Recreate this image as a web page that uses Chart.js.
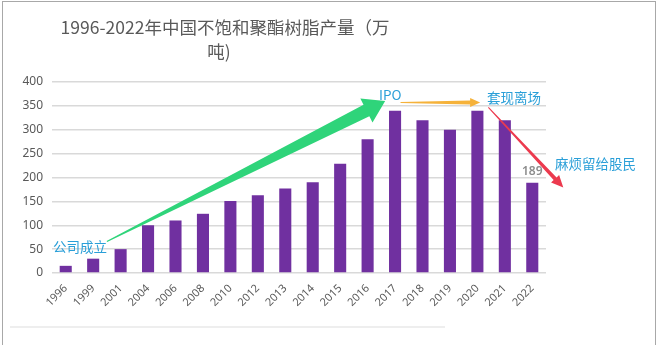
<!DOCTYPE html>
<html>
<head>
<meta charset="utf-8">
<script src="https://cdn.jsdelivr.net/npm/chart.js@4.4.1/dist/chart.umd.min.js"></script>
<style>
  html, body { margin: 0; padding: 0; background: #fff; }
  #wrap { position: relative; width: 660px; height: 345px; overflow: hidden; font-family: "Noto Sans CJK SC", "Noto Sans", sans-serif; }
  #frame { position: absolute; left: 2px; top: 1px; width: 654px; height: 360px; border: 1.5px solid #a8a8a8; box-sizing: border-box; pointer-events: none; }
  #title { position: absolute; left: 40px; top: 15px; width: 370px; text-align: center; font-size: 17.5px; line-height: 24px; color: #595959; }
  #title span { position: relative; left: -6px; }
  .note { position: absolute; font-size: 13.5px; line-height: 16px; color: #2a9fd8; white-space: nowrap; }
  #foot { position: absolute; left: 10px; top: 326px; width: 435px; height: 2px; background: #eeeeee; }
</style>
</head>
<body>
<div id="wrap">
  <canvas id="chart"></canvas>
  <div id="title">1996-2022年中国不饱和聚酯树脂产量（万<br><span>吨)</span></div>
  <div class="note" style="left:53px;top:238px">公司成立</div>
  <div class="note" style="left:379px;top:86px">IPO</div>
  <div class="note" style="left:487px;top:89px">套现离场</div>
  <div class="note" style="left:555px;top:155px">麻烦留给股民</div>
  <div id="foot"></div>
  <div id="frame"></div>
</div>
<script>
const PURPLE = '#7030a0', GRID = '#d9d9d9', TXT = '#595959';

const years = ['1996', '1999', '2001', '2004', '2006', '2008', '2010', '2012', '2013',
  '2014', '2015', '2016', '2017', '2018', '2019', '2020', '2021', '2022'];
const output = [15, 30, 50, 100, 110, 124, 151, 163, 177, 190, 229, 280, 340, 320, 300, 340, 320, 189];
const yMax = 400, yStep = 50;
const labelled = ['2022'];   // 只有最后一根柱子带数值标签

// 箭头：起点/终点用 [类别序号, 数值]，经由坐标轴换算成像素
const arrows = [
  { from: [1.5, 66], to: [11.64, 360], color: '#2fd47a', w0: 1.2, w1: 13, headLen: 21, headW: 27 },
  { from: [12.2, 357], to: [15.1, 357], color: '#f5b23a', w0: 1, w1: 4, headLen: 10, headW: 9 },
  { from: [15.4, 347], to: [18.13, 179], color: '#ec3a4e', w0: 1, w1: 4, headLen: 12, headW: 11 },
];

const arrowPlugin = {
  id: 'arrows',
  afterDatasetsDraw(chart) {
    const { ctx, scales: { x, y } } = chart;
    arrows.forEach(a => {
      const x0 = x.getPixelForValue(a.from[0]), y0 = y.getPixelForValue(a.from[1]);
      const x1 = x.getPixelForValue(a.to[0]), y1 = y.getPixelForValue(a.to[1]);
      const len = Math.hypot(x1 - x0, y1 - y0);
      const ux = (x1 - x0) / len, uy = (y1 - y0) / len;
      const nx = -uy, ny = ux;
      const bx = x1 - ux * a.headLen, by = y1 - uy * a.headLen;
      ctx.save();
      ctx.fillStyle = a.color;
      ctx.beginPath();
      ctx.moveTo(x0 + nx * a.w0 / 2, y0 + ny * a.w0 / 2);
      ctx.lineTo(bx + nx * a.w1 / 2, by + ny * a.w1 / 2);
      ctx.lineTo(bx + nx * a.headW / 2, by + ny * a.headW / 2);
      ctx.lineTo(x1, y1);
      ctx.lineTo(bx - nx * a.headW / 2, by - ny * a.headW / 2);
      ctx.lineTo(bx - nx * a.w1 / 2, by - ny * a.w1 / 2);
      ctx.lineTo(x0 - nx * a.w0 / 2, y0 - ny * a.w0 / 2);
      ctx.closePath();
      ctx.fill();
      ctx.restore();
    });
  },
};

const valueLabel = {
  id: 'valueLabel',
  afterDatasetsDraw(chart) {
    const { ctx } = chart;
    const meta = chart.getDatasetMeta(0);
    ctx.save();
    ctx.font = '600 12px "Noto Sans", sans-serif';
    ctx.fillStyle = '#8c8c8c';
    ctx.textAlign = 'center';
    ctx.textBaseline = 'bottom';
    meta.data.forEach((bar, i) => {
      if (!labelled.includes(years[i])) return;
      ctx.fillText(String(output[i]), bar.x, bar.y - 5);
    });
    ctx.restore();
  },
};

new Chart(document.getElementById('chart'), {
  type: 'bar',
  data: {
    labels: years,
    datasets: [{ data: output, backgroundColor: PURPLE, barPercentage: 0.44, categoryPercentage: 1 }],
  },
  options: {
    responsive: true, maintainAspectRatio: false, animation: false,
    layout: { padding: { left: 12, right: 114, top: 82, bottom: 28 } },
    plugins: { legend: { display: false }, tooltip: { enabled: false }, title: { display: false } },
    scales: {
      x: {
        grid: { display: false, drawTicks: false },
        border: { display: false },
        ticks: { color: TXT, font: { family: 'Noto Sans', size: 11 }, minRotation: 45, maxRotation: 45, padding: 9 },
        afterFit: s => { s.height = 44; },
      },
      y: {
        min: 0, max: yMax,
        grid: { color: GRID, lineWidth: 1.5, drawTicks: false },
        border: { display: false },
        ticks: { stepSize: yStep, color: TXT, font: { family: 'Noto Sans', size: 12 }, padding: 9 },
        afterFit: s => { s.width = 40; },
      },
    },
  },
  plugins: [arrowPlugin, valueLabel],
});
</script>
</body>
</html>
